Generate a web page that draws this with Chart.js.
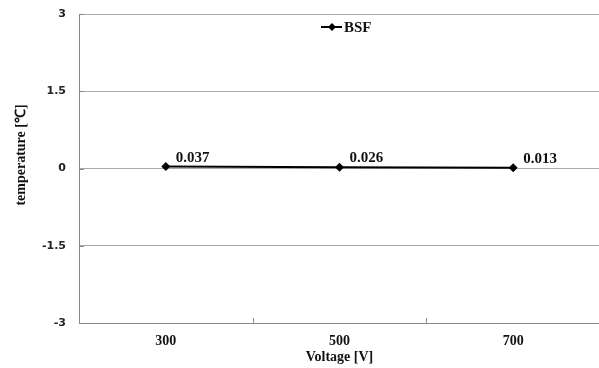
<!DOCTYPE html>
<html>
<head>
<meta charset="utf-8">
<script src="https://cdn.jsdelivr.net/npm/chart.js@4/dist/chart.umd.min.js"></script>
<style>
    html, body { margin: 0; padding: 0; background: #fff; overflow: hidden; }
    #wrap { width: 599px; height: 368px; overflow: hidden; }
</style>
</head>
<body>
<div id="wrap"><canvas id="chart" width="600" height="368"></canvas></div>
<script>
// Temperature change against applied voltage, BSF series.
const VOLTAGES = ['300', '500', '700'];
const BSF_TEMPS = [0.037, 0.026, 0.013];
const BSF_LABELS = ['0.037', '0.026', '0.013'];
const Y_TICKS = [-3, -1.5, 0, 1.5, 3];

const SERIF = '"Liberation Serif", "Times New Roman", serif';
const SANS = '"DejaVu Sans", Verdana, sans-serif';

// Small inward tick marks: between categories on the x axis, at each value on the y axis.
const innerTicks = {
    id: 'innerTicks',
    afterDraw(chart) {
        const { ctx, chartArea: a, scales: { x, y } } = chart;
        ctx.save();
        ctx.strokeStyle = '#888';
        ctx.lineWidth = 1;
        ctx.beginPath();
        for (let i = 0; i < VOLTAGES.length - 1; i++) {
            const px = Math.round((x.getPixelForValue(i) + x.getPixelForValue(i + 1)) / 2) + 0.5;
            ctx.moveTo(px, a.bottom);
            ctx.lineTo(px, a.bottom - 5);
        }
        Y_TICKS.forEach((v) => {
            const py = Math.round(y.getPixelForValue(v)) + 0.5;
            ctx.moveTo(a.left, py);
            ctx.lineTo(a.left + 5, py);
        });
        ctx.stroke();
        ctx.restore();
    },
};

// Value labels up and to the right of each marker.
const pointLabels = {
    id: 'pointLabels',
    afterDatasetsDraw(chart) {
        const { ctx } = chart;
        const meta = chart.getDatasetMeta(0);
        ctx.save();
        ctx.font = 'bold 15px ' + SERIF;
        ctx.fillStyle = '#111';
        ctx.textAlign = 'left';
        ctx.textBaseline = 'alphabetic';
        meta.data.forEach((pt, i) => {
            ctx.fillText(BSF_LABELS[i], pt.x + 10, pt.y - 5);
        });
        ctx.restore();
    },
};

// Legend inside the plot, top centre, and the rotated y axis title.
const annotations = {
    id: 'annotations',
    afterDraw(chart) {
        const { ctx } = chart;
        const cx = 332, cy = 27;
        ctx.save();
        ctx.strokeStyle = '#000';
        ctx.lineWidth = 2;
        ctx.beginPath();
        ctx.moveTo(cx - 11, cy);
        ctx.lineTo(cx + 10, cy);
        ctx.stroke();
        ctx.fillStyle = '#000';
        ctx.beginPath();
        ctx.moveTo(cx, cy - 4);
        ctx.lineTo(cx + 4, cy);
        ctx.lineTo(cx, cy + 4);
        ctx.lineTo(cx - 4, cy);
        ctx.closePath();
        ctx.fill();
        ctx.font = 'bold 15px ' + SERIF;
        ctx.fillStyle = '#111';
        ctx.textBaseline = 'middle';
        ctx.fillText('BSF', cx + 12, cy + 1);

        ctx.translate(21, 155);
        ctx.rotate(-Math.PI / 2);
        ctx.font = 'bold 14px ' + SERIF;
        ctx.textAlign = 'center';
        ctx.fillText('temperature [℃]', 0, 0);
        ctx.restore();
    },
};

new Chart(document.getElementById('chart').getContext('2d'), {
    type: 'line',
    data: {
        labels: VOLTAGES,
        datasets: [{
            label: 'BSF',
            data: BSF_TEMPS,
            borderColor: '#000',
            backgroundColor: '#000',
            borderWidth: 2,
            pointStyle: 'rectRot',
            pointRadius: 4.5,
            pointBorderWidth: 0,
            tension: 0,
        }],
    },
    options: {
        responsive: false,
        animation: false,
        layout: { autoPadding: false, padding: { top: 14, right: 0, bottom: 0, left: 0 } },
        plugins: { legend: { display: false }, tooltip: { enabled: false } },
        scales: {
            x: {
                type: 'category',
                offset: true,
                grid: { display: false, offset: true, drawTicks: false },
                border: { display: true, color: '#888', width: 1 },
                ticks: { color: '#111', font: { family: SERIF, size: 14, weight: 'bold' }, padding: 10 },
                title: {
                    display: true,
                    text: 'Voltage [V]',
                    color: '#111',
                    font: { family: SERIF, size: 14, weight: 'bold' },
                    padding: { top: 0, bottom: 2 },
                },
                afterFit(scale) { scale.height = 45; },
            },
            y: {
                min: -3,
                max: 3,
                afterBuildTicks(scale) { scale.ticks = Y_TICKS.map((v) => ({ value: v })); },
                grid: { color: '#aaa', drawTicks: false },
                border: { display: true, color: '#888', width: 1 },
                ticks: {
                    color: '#222',
                    font: { family: SANS, size: 11, weight: 'bold' },
                    padding: 13,
                    callback: (v) => String(v),
                },
                afterFit(scale) {
                    scale.width = 79;
                    scale.paddingTop = 0;
                    scale.paddingBottom = 0;
                },
            },
        },
    },
    plugins: [innerTicks, pointLabels, annotations],
});
</script>
</body>
</html>
